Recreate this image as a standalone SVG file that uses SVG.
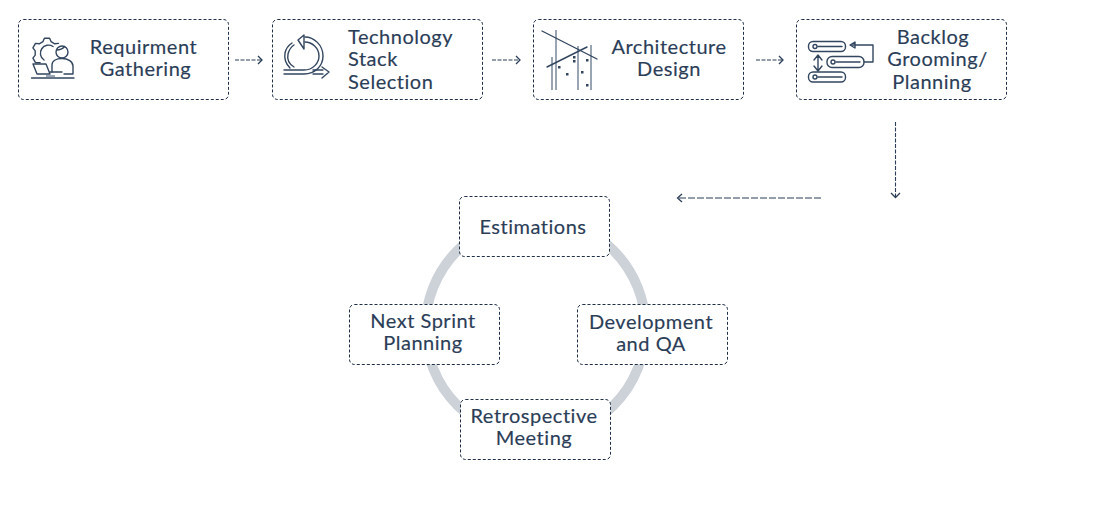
<svg xmlns="http://www.w3.org/2000/svg" width="1100" height="516" viewBox="0 0 1100 516">
<style>
.box{fill:#fff;stroke:#1f2f46;stroke-width:1;stroke-dasharray:3 2}
.t{font-family:"Lato","Liberation Sans",sans-serif;font-size:20px;fill:#2b3d57;stroke:#2b3d57;stroke-width:.15;text-anchor:middle;letter-spacing:.52px}
.tl{text-anchor:start}
.c{fill:none;stroke:#2b3d57;stroke-width:1.1;stroke-dasharray:4 1.500}
.cl{fill:none;stroke:#2b3d57;stroke-width:1.1;stroke-dasharray:7 2}
.h{fill:none;stroke:#2b3d57;stroke-width:1.3}
.i{fill:none;stroke:#33465f;stroke-width:1.4;stroke-linecap:round;stroke-linejoin:round}
.g{fill:none;stroke:#6f7f95;stroke-width:1.4}
.d{fill:#33465f}
</style>
<rect width="1100" height="516" fill="#fff"/>
<circle id="ring" cx="535.500" cy="328" r="110" fill="none" stroke="#cdd2d9" stroke-width="10"/>
<g id="connectors">
<path class="c" d="M235 60H262"/><path class="h" d="M258 56l4 4-4 4"/>
<path class="c" d="M492 60H519"/><path class="h" d="M516 56l4 4-4 4"/>
<path class="c" d="M756 60H783"/><path class="h" d="M779 56l4 4-4 4"/>
<path class="c" d="M895.500 122V197"/><path class="h" d="M891 193l4.500 4.500 4.500-4.500"/>
<path class="cl" d="M821 198H678"/><path class="h" d="M682 194l-4.500 4 4.500 4"/>
</g>
<g id="n1"><rect class="box" x="18.500" y="19.500" width="210" height="80" rx="5"/>
<g id="n1-icon">
<path class="i" d="M40.100 62.800L35.500 62.600L32.900 58.100L35.200 55.100L35.200 50.900L32.900 47.900L35.500 43.400L39.300 43.800L42.900 41.700L44.400 38.200L49.600 38.200L51.100 41.700L54.700 43.800L58.500 43.400"/>
<path class="i" d="M44 60A8 8 0 0 1 53 46.500"/>
<circle class="i" cx="62" cy="52" r="6"/><path class="i" d="M56.500 50c3 0 6-1 8-3.500"/>
<path class="i" d="M52 72v-7c0-4 4-6.500 10-6.500s11 3 11 7.500v8H64"/>
<path class="i" d="M33 64h13l4 10H37z"/>
<path class="i" d="M50 72h12"/>
<path class="i" d="M31.500 78H74"/><path class="g" d="M46 76h9"/>
</g>
<text class="t" x="143.500" y="54">Requirment</text><text class="t" x="145.500" y="76">Gathering</text></g>
<g id="n2"><rect class="box" x="272.500" y="19.500" width="210" height="80" rx="5"/>
<g id="n2-icon">
<path class="i" d="M284 70H304c9 0 15-7 15-14 0-8-7-14-14-14"/><path class="i" d="M284 74H304c11 0 19-8 19-18 0-11-9-19-18-19"/>
<path class="i" d="M298 40l6-5v14z"/>
<path class="i" d="M294 67c-5-3-7-8-6-13 1-4 3-7 6-9"/><path class="i" d="M290 68c-4-4-6-9-5-15 1-5 4-8 7-10"/>
<path class="i" d="M313 70h10M313 74h10M322 67l7 5-7 6"/>
</g>
<text class="t tl" x="348" y="44">Technology</text><text class="t tl" x="348" y="66">Stack</text><text class="t tl" x="348" y="89">Selection</text></g>
<g id="n3"><rect class="box" x="533.500" y="19.500" width="210" height="80" rx="5"/>
<g id="n3-icon">
<path class="g" d="M552 57V90M556 30V90M578 46V90M591 45V90"/>
<path class="i" d="M542 31L597 59M547 67L587 47"/>
<rect class="d" x="573" y="56" width="2.500" height="2.500"/><rect class="d" x="573" y="60" width="2.500" height="2.500"/><rect class="d" x="586" y="59" width="2.500" height="2.500"/><rect class="d" x="558" y="66" width="2.500" height="2.500"/><rect class="d" x="566" y="73" width="2.500" height="2.500"/><rect class="d" x="581" y="71" width="2.500" height="2.500"/><rect class="d" x="586" y="84" width="2.500" height="2.500"/>
</g>
<text class="t" x="669" y="54">Architecture</text><text class="t" x="669" y="76">Design</text></g>
<g id="n4"><rect class="box" x="796.500" y="19.500" width="210" height="80" rx="5"/>
<g id="n4-icon">
<rect class="i" x="808.500" y="41.500" width="37" height="10" rx="4.500"/><circle class="i" cx="815" cy="46.500" r="2"/><path class="i" d="M818 46.500H842"/>
<rect class="i" x="827" y="56.500" width="37" height="11" rx="5"/><circle class="i" cx="833" cy="62" r="2"/><path class="i" d="M836 62H860"/>
<rect class="i" x="808.500" y="72" width="37" height="10" rx="4.500"/><circle class="i" cx="815" cy="77" r="2"/><path class="i" d="M818 77H842"/>
<path class="i" d="M851 45H873V62H864"/><path class="i" d="M855 42v6l-5-3z"/>
<path class="i" d="M818 56v15M814 60l4-5 4 5M814 66l4 5 4-5"/>
</g>
<text class="t" x="933" y="44">Backlog</text><text class="t" x="937.500" y="66">Grooming/</text><text class="t" x="932" y="89">Planning</text></g>
<g id="n5"><rect class="box" x="459.500" y="196.500" width="150" height="60" rx="5"/><text class="t" x="533" y="234">Estimations</text></g>
<g id="n6"><rect class="box" x="577.500" y="304.500" width="150" height="60" rx="5"/><text class="t" x="651" y="329">Development</text><text class="t" x="651" y="351">and QA</text></g>
<g id="n7"><rect class="box" x="460.500" y="399.500" width="150" height="60" rx="5"/><text class="t" x="534" y="423">Retrospective</text><text class="t" x="534" y="445">Meeting</text></g>
<g id="n8"><rect class="box" x="349.500" y="304.500" width="150" height="60" rx="5"/><text class="t" x="423" y="328">Next Sprint</text><text class="t" x="423" y="350">Planning</text></g>
</svg>
